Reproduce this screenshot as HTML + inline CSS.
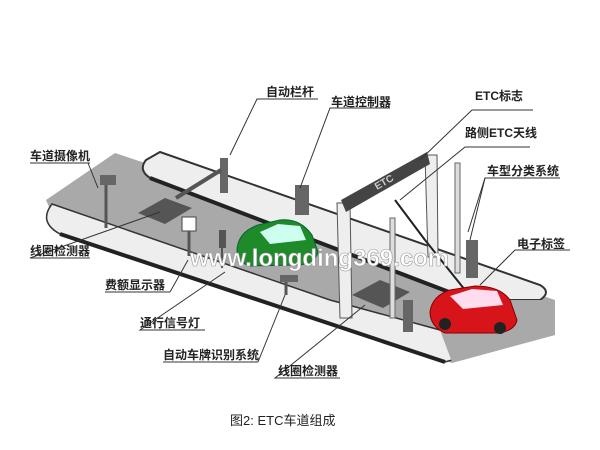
<!DOCTYPE html>
<html><head><meta charset="utf-8"><style>
body{margin:0;background:#fff}
svg{display:block}
text{font-family:"Liberation Sans","Noto Sans CJK SC",sans-serif;font-size:12px;font-weight:bold;fill:#222}
</style></head><body>
<svg width="600" height="450" viewBox="0 0 600 450">
<rect width="600" height="450" fill="#fff"/>
<!-- grey lane surface -->
<polygon points="46,200 115,153 555,300 555,335 452,363 60,232" fill="#a9a9a9"/>
<!-- upper island -->
<path d="M160,152 L540,285 Q552,292 540,300 L470,300 L150,178 Q138,170 146,160 Z" fill="#eee" stroke="#333" stroke-width="2"/>
<path d="M150,178 L470,300" stroke="#222" stroke-width="4"/>
<!-- lower island -->
<path d="M52,204 L330,300 L440,330 Q458,340 452,360 L445,362 L60,234 Q38,222 52,204 Z" fill="#eee" stroke="#333" stroke-width="1.5"/>
<path d="M60,234 L445,362" stroke="#222" stroke-width="4"/>
<!-- right grey area near red car -->
<polygon points="470,300 555,300 555,335 452,362 440,330" fill="#a9a9a9"/>
<!-- loop detectors -->
<polygon points="138,213 165,198 192,208 165,224" fill="#555"/>
<polygon points="352,295 380,280 410,292 383,308" fill="#555"/>
<!-- barrier -->
<rect x="220" y="158" width="8" height="35" fill="#666"/>
<line x1="221" y1="170" x2="176" y2="198" stroke="#555" stroke-width="4"/>
<!-- controller -->
<rect x="295" y="185" width="14" height="30" fill="#666"/>
<!-- camera -->
<rect x="100" y="175" width="16" height="10" fill="#666"/>
<line x1="106" y1="185" x2="106" y2="228" stroke="#555" stroke-width="3"/>
<!-- fee display -->
<rect x="182" y="217" width="14" height="14" fill="#fff" stroke="#444"/>
<line x1="189" y1="231" x2="189" y2="256" stroke="#555" stroke-width="3"/>
<!-- signal -->
<rect x="219" y="230" width="7" height="18" fill="#555"/>
<line x1="222" y1="248" x2="222" y2="268" stroke="#555" stroke-width="2"/>
<!-- plate camera -->
<rect x="280" y="275" width="18" height="7" fill="#666"/>
<line x1="286" y1="282" x2="286" y2="295" stroke="#555" stroke-width="3"/>
<!-- gantry -->
<polygon points="337,203 350,203 352,318 340,318" fill="#eee" stroke="#555"/>
<polygon points="425,155 437,155 438,257 428,257" fill="#eee" stroke="#555"/>
<polygon points="341,200 427,152 430,164 346,212" fill="#444"/>
<text x="377" y="190" fill="#ccc" style="font-size:10px;fill:#ccc" transform="rotate(-30 377 190)">ETC</text>
<line x1="395" y1="200" x2="425" y2="240" stroke="#222" stroke-width="2"/>
<line x1="425" y1="240" x2="465" y2="290" stroke="#222" stroke-width="2"/>
<!-- poles -->
<rect x="390" y="218" width="5" height="100" fill="#ddd" stroke="#666"/>
<rect x="455" y="163" width="5" height="110" fill="#ddd" stroke="#666"/>
<rect x="466" y="240" width="12" height="38" fill="#666"/>
<rect x="403" y="300" width="10" height="32" fill="#666"/>
<!-- green car -->
<path d="M237,250 Q238,232 258,225 L280,220 Q300,218 312,235 L318,252 Q316,262 300,265 L250,266 Q237,262 237,250 Z" fill="#1f8a2a" stroke="#063" />
<polygon points="260,232 278,224 300,226 306,240 270,244" fill="#cfe"/>
<!-- red car -->
<path d="M430,312 Q432,296 450,290 L475,286 Q500,286 510,300 L517,320 Q515,330 500,333 L445,333 Q430,326 430,312 Z" fill="#d8141b" stroke="#800"/>
<polygon points="450,296 472,289 497,291 503,305 463,309" fill="#fde"/>
<circle cx="445" cy="324" r="6" fill="#222"/><circle cx="500" cy="328" r="6" fill="#222"/>
<!-- watermark -->
<text x="190" y="266" style="font-size:24px;fill:#fff;stroke:#999;stroke-width:0.6;font-weight:bold">www.longding369.com</text>
<!-- leader lines -->
<g stroke="#333" stroke-width="1" fill="none">
<polyline points="318,99 257,99 230,155"/>
<polyline points="390,108 330,108 300,188"/>
<polyline points="533,110 472,110 420,160"/>
<polyline points="530,147 465,147 400,200"/>
<polyline points="90,163 30,163"/><line x1="88" y1="163" x2="98" y2="188"/>
<polyline points="560,178 485,178 470,240"/><line x1="485" y1="178" x2="468" y2="232"/>
<polyline points="90,258 30,258 160,212"/>
<polyline points="570,250 515,250 480,285"/>
<polyline points="170,292 105,292"/><line x1="170" y1="292" x2="188" y2="260"/>
<polyline points="205,330 140,330 225,272"/>
<polyline points="258,362 163,362"/><line x1="258" y1="362" x2="285" y2="295"/>
<polyline points="340,378 275,378 365,305"/>
</g>
<text x="266" y="96">自动栏杆</text>
<text x="331" y="106">车道控制器</text>
<text x="475" y="100">ETC标志</text>
<text x="465" y="137">路侧ETC天线</text>
<text x="30" y="160">车道摄像机</text>
<text x="487" y="175">车型分类系统</text>
<text x="30" y="255">线圈检测器</text>
<text x="517" y="248">电子标签</text>
<text x="105" y="289">费额显示器</text>
<text x="140" y="327">通行信号灯</text>
<text x="163" y="359">自动车牌识别系统</text>
<text x="278" y="375">线圈检测器</text>
<text x="230" y="425" style="font-weight:normal;font-size:13px">图2: ETC车道组成</text>
</svg>
</body></html>
